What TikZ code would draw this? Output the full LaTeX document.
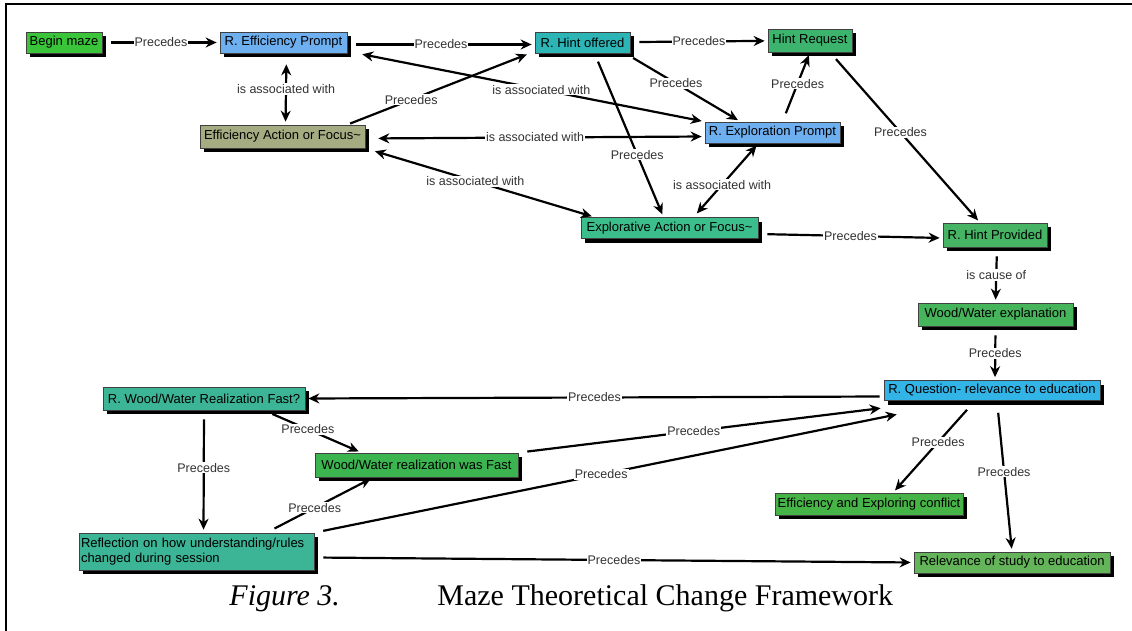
\documentclass[tikz,border=0pt]{standalone}
\usepackage{fontspec}
\setmainfont{Liberation Serif}
\setsansfont{Liberation Sans}
\usepackage{tikz}
\usepackage{xcolor}
\usetikzlibrary{arrows.meta,shadows}

\definecolor{begingreen}{RGB}{58,196,58}
\definecolor{promptblue}{RGB}{110,175,240}
\definecolor{hintteal}{RGB}{45,180,180}
\definecolor{reqgreen}{RGB}{60,180,110}
\definecolor{actionolive}{RGB}{165,172,130}
\definecolor{explgreen}{RGB}{60,190,140}
\definecolor{provgreen}{RGB}{70,180,100}
\definecolor{woodgreen}{RGB}{70,180,90}
\definecolor{questionblue}{RGB}{50,180,230}
\definecolor{fastteal}{RGB}{60,180,150}
\definecolor{fastgreen}{RGB}{60,180,80}
\definecolor{conflictgreen}{RGB}{70,180,70}
\definecolor{relevgreen}{RGB}{100,180,90}

\tikzstyle{box} = [rectangle, draw=black!75, line width=0.7pt, minimum height=21pt, inner sep=2pt, font=\sffamily\fontsize{13}{15}\selectfont, drop shadow={shadow xshift=4pt,shadow yshift=-4pt,opacity=1,fill=black}]
\tikzstyle{rel} = [fill=white, inner sep=1pt, font=\sffamily\fontsize{12.5}{14}\selectfont, text=black!80]

\begin{document}
\begin{tikzpicture}[->,>={Stealth[length=11pt,width=10pt]},shorten <=9pt,shorten >=3pt,line width=2.2pt,x=1pt,y=-1pt]
  \useasboundingbox (0,0) rectangle (1132,631);
  \draw[-,line width=2.2pt,shorten <=0pt,shorten >=0pt] (6,631) -- (6,4) -- (1132,4);

  \node[box, fill=begingreen, minimum width=76pt] (begin) at (64,42.5) {Begin maze};
  \node[box, fill=promptblue, minimum width=127pt] (effprompt) at (283.5,42.5) {R. Efficiency Prompt};
  \node[box, fill=hintteal, minimum width=95pt] (hintoff) at (582.5,42.5) {R. Hint offered};
  \node[box, fill=reqgreen, minimum width=84pt, minimum height=23pt] (hintreq) at (810,40.5) {Hint Request};
  \node[box, fill=actionolive, minimum width=165pt, minimum height=23pt] (effaction) at (282.5,136.5) {Efficiency Action or Focus\textasciitilde};
  \node[box, fill=promptblue, minimum width=135pt] (exprompt) at (772.5,132.5) {R. Exploration Prompt};
  \node[box, fill=explgreen, minimum width=177pt] (expaction) at (669.5,228) {Explorative Action or Focus\textasciitilde};
  \node[box, fill=provgreen, minimum width=104pt, minimum height=24pt] (hintprov) at (995,235) {R. Hint Provided};
  \node[box, fill=woodgreen, minimum width=155pt, minimum height=23pt] (woodexpl) at (995.5,314.5) {Wood/Water explanation};
  \node[box, fill=questionblue, minimum width=216pt, minimum height=20pt] (question) at (992,390.5) {R. Question- relevance to education};
  \node[box, fill=fastteal, minimum width=202pt, minimum height=23pt] (wwfastq) at (204,398.5) {R. Wood/Water Realization Fast?};
  \node[box, fill=fastgreen, minimum width=203pt, minimum height=24pt] (wwfast) at (416.5,465) {Wood/Water realization was Fast};
  \node[box, fill=fastteal, text width=231pt, minimum height=37pt, align=left] (reflection) at (196.5,551.5) {Reflection on how understanding/rules\\changed during session};
  \node[box, fill=conflictgreen, minimum width=188pt, minimum height=22pt] (conflict) at (869,504) {Efficiency and Exploring conflict};
  \node[box, fill=relevgreen, minimum width=196pt] (relevance) at (1012,562.5) {Relevance of study to education};

  \node[font=\itshape\fontsize{30}{36}\selectfont, anchor=base west] (figno) at (225,605) {Figure 3.};
  \node[font=\fontsize{30}{36}\selectfont, anchor=base west] (figtitle) at (433,605) {Maze Theoretical Change Framework};

  % top row
  \path (begin) edge node[rel] {Precedes} (effprompt);
  \path ([yshift=-2pt]effprompt.east) edge node[rel] {Precedes} ([yshift=-2pt]hintoff.west);
  \path (hintoff) edge node[rel] {Precedes} (hintreq);
  \path ([xshift=3pt]effprompt.south) edge[<->,shorten <=11pt] node[rel] {is associated with} ([xshift=3pt]effaction.north);
  \path ([xshift=-18pt]effaction.north east) edge[shorten <=3pt] node[rel,pos=0.35] {Precedes} ([xshift=-5pt]hintoff.south west);
  \path ([xshift=10pt]effprompt.south east) edge[<->,shorten <=5pt] node[rel,pos=0.53] {is associated with} (exprompt.north west);
  \path ([yshift=-2pt]effaction.east) edge[<->,shorten <=13pt] node[rel] {is associated with} ([yshift=-4pt]exprompt.west);
  \path (effaction.south east) edge[<->,shorten <=10pt] node[rel,pos=0.48] {is associated with} ([xshift=14pt]expaction.north west);
  \path ([xshift=12pt]hintoff.south) edge node[rel,pos=0.62] {Precedes} ([xshift=-6pt]expaction.north);
  \path ([xshift=-5pt]hintoff.south east) edge node[rel,pos=0.44] {Precedes} ([xshift=-32pt]exprompt.north);
  \path ([xshift=10pt]exprompt.north) edge node[rel,pos=0.55] {Precedes} (hintreq.south);
  \path ([xshift=24pt]expaction.north) edge[<->,shorten <=5pt] node[rel,pos=0.44] {is associated with} ([xshift=-14pt]exprompt.south);
  \path ([xshift=20pt]hintreq.south) edge node[rel,pos=0.47] {Precedes} ([xshift=-15pt]hintprov.north);
  \path ([yshift=-6pt]expaction.east) edge node[rel] {Precedes} ([yshift=-3pt]hintprov.west);
  % right column
  \path ([xshift=2pt]hintprov.south) edge node[rel] {is cause of} (woodexpl.north);
  \path (woodexpl.south) edge node[rel] {Precedes} ([xshift=3pt]question.north);
  \path ([yshift=-6pt]question.west) edge[shorten <=4pt] node[rel] {Precedes} (wwfastq.east);
  % bottom left
  \path ([xshift=60pt]wwfastq.south) edge node[rel,pos=0.45] {Precedes} ([xshift=-55pt]wwfast.north);
  \path (wwfastq.south) edge node[rel,pos=0.47] {Precedes} ([xshift=7pt]reflection.north);
  \path ([xshift=70pt]reflection.north) edge node[rel,pos=0.45] {Precedes} ([xshift=-43pt]wwfast.south);
  \path (wwfast.north east) edge node[rel,pos=0.48] {Precedes} ([yshift=-7pt]question.south west);
  \path (reflection.north east) edge node[rel,pos=0.49] {Precedes} ([xshift=16pt,yshift=-13pt]question.south west);
  \path ([yshift=-6pt]reflection.east) edge node[rel] {Precedes} (relevance.west);
  % bottom right
  \path ([xshift=-17pt]question.south) edge[shorten <=12pt] node[rel,pos=0.45] {Precedes} ([xshift=24pt]conflict.north);
  \path ([xshift=5pt]question.south) edge[shorten <=12pt] node[rel,pos=0.47] {Precedes} (relevance.north);
\end{tikzpicture}
\end{document}
